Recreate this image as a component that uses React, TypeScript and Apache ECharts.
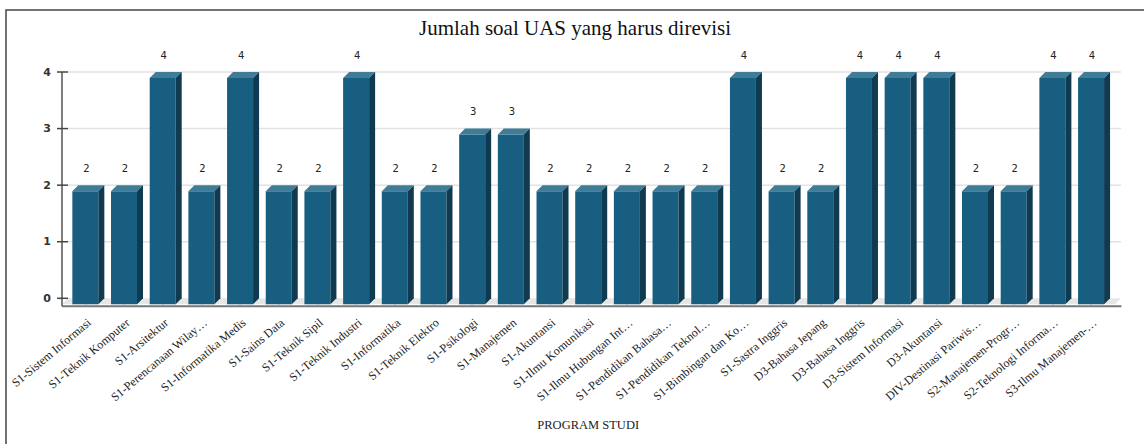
import React, { useEffect, useRef } from "react";
import * as echarts from "echarts";

const TITLE = "Jumlah soal UAS yang harus direvisi";
const AXIS_NAME = "PROGRAM STUDI";

const categories = [
  "S1-Sistem Informasi",
  "S1-Teknik Komputer",
  "S1-Arsitektur",
  "S1-Perencanaan Wilay…",
  "S1-Informatika Medis",
  "S1-Sains Data",
  "S1-Teknik Sipil",
  "S1-Teknik Industri",
  "S1-Informatika",
  "S1-Teknik Elektro",
  "S1-Psikologi",
  "S1-Manajemen",
  "S1-Akuntansi",
  "S1-Ilmu Komunikasi",
  "S1-Ilmu Hubungan Int…",
  "S1-Pendidikan Bahasa…",
  "S1-Pendidikan Teknol…",
  "S1-Bimbingan dan Ko…",
  "S1-Sastra Inggris",
  "D3-Bahasa Jepang",
  "D3-Bahasa Inggris",
  "D3-Sistem Informasi",
  "D3-Akuntansi",
  "DIV-Destinasi Pariwis…",
  "S2-Manajemen-Progr…",
  "S2-Teknologi Informa…",
  "S3-Ilmu Manajemen-…",
];

const values = [2, 2, 4, 2, 4, 2, 2, 4, 2, 2, 3, 3, 2, 2, 2, 2, 2, 4, 2, 2, 4, 4, 4, 2, 2, 4, 4];

const yTicks = [0, 1, 2, 3, 4];

const FRONT = "#185e80";
const TOP = "#3f7c98";
const SIDE = "#0f3a50";

export default function App() {
  const ref = useRef<HTMLDivElement>(null);

  useEffect(() => {
    document.body.style.margin = "0";
    if (!ref.current) return;
    const chart = echarts.init(ref.current, null, { renderer: "svg" });

    const D = 6;
    const HALF = 13;

    const option: any = {
      animation: false,
      title: {
        text: TITLE,
        left: 419,
        top: 17,
        padding: 0,
        textStyle: {
          fontFamily: "Liberation Serif",
          fontSize: 21,
          fontWeight: "normal",
          color: "#111",
        },
      },
      grid: { left: 66, right: 33.6, top: 72, bottom: 145.7, containLabel: false },
      xAxis: {
        type: "category",
        data: categories,
        offset: 8,
        axisLine: { show: false },
        axisTick: {
          show: true,
          alignWithLabel: true,
          length: 6,
          lineStyle: { color: "#333", width: 1.5 },
        },
        axisLabel: {
          rotate: 40,
          interval: 0,
          margin: 10,
          verticalAlign: "top",
          fontFamily: "Liberation Serif",
          fontSize: 12,
          color: "#222",
        },
        splitLine: { show: false },
        name: AXIS_NAME,
        nameLocation: "middle",
        nameGap: 112,
        nameTextStyle: {
          fontFamily: "Liberation Serif",
          fontSize: 12.5,
          color: "#222",
        },
      },
      yAxis: {
        type: "value",
        min: 0,
        max: 4,
        interval: 1,
        offset: 4,
        axisLine: { show: false },
        axisTick: { show: false },
        splitLine: { show: false },
        axisLabel: {
          margin: 11,
          fontFamily: "DejaVu Sans",
          fontSize: 11,
          fontWeight: "bold",
          color: "#333",
        },
      },
      graphic: [
        {
          type: "rect",
          shape: { x: 6, y: 10, width: 1160, height: 460 },
          style: { fill: "none", stroke: "#444", lineWidth: 1.5 },
          silent: true,
        },
      ],
      series: [
        {
          type: "custom",
          z: 1,
          clip: false,
          silent: true,
          data: [[0, 0]],
          renderItem: (params: any, api: any) => {
            const cs = params.coordSys;
            const x0 = cs.x;
            const x1 = cs.x + cs.width;
            const y0 = api.coord([0, 0])[1];
            const yTop = api.coord([0, yTicks[yTicks.length - 1]])[1];
            const children: any[] = [];
            children.push({
              type: "polygon",
              shape: {
                points: [
                  [x0 - 4, y0 + D],
                  [x1 + 4.6, y0 + D],
                  [x1 + 10.6, y0],
                  [x0 + 2, y0],
                ],
              },
              style: { fill: "#e6e6e6" },
            });
            yTicks.forEach((v) => {
              const y = api.coord([0, v])[1];
              if (v > 0) {
                children.push({
                  type: "line",
                  shape: { x1: x0 + 2, y1: y, x2: x1 + 10.6, y2: y },
                  style: { stroke: "#e2e2e2", lineWidth: 1.5 },
                });
              }
            });
            children.push({
              type: "line",
              shape: { x1: x0 - 4, y1: y0 + 8, x2: x1 + 11, y2: y0 + 8 },
              style: { stroke: "#777", lineWidth: 2 },
            });
            children.push({
              type: "line",
              shape: { x1: x0 - 4, y1: yTop, x2: x0 - 4, y2: y0 + 8 },
              style: { stroke: "#555", lineWidth: 1.5 },
            });
            yTicks.forEach((v) => {
              const y = api.coord([0, v])[1];
              children.push({
                type: "line",
                shape: { x1: x0 - 9, y1: y, x2: x0 + 2, y2: y },
                style: { stroke: "#444", lineWidth: 1.5 },
              });
            });
            return { type: "group", children };
          },
        },
        {
          type: "custom",
          z: 2,
          clip: false,
          data: values.map((v, i) => [i, v]),
          renderItem: (params: any, api: any) => {
            const i = api.value(0);
            const v = api.value(1);
            const p = api.coord([i, v]);
            const xc = p[0];
            const yv = p[1];
            const y0 = api.coord([i, 0])[1];
            return {
              type: "group",
              children: [
                {
                  type: "rect",
                  shape: { x: xc - HALF, y: yv + D, width: HALF * 2, height: y0 - yv },
                  style: { fill: FRONT },
                },
                {
                  type: "polygon",
                  shape: {
                    points: [
                      [xc - HALF, yv + D],
                      [xc + HALF, yv + D],
                      [xc + HALF + D, yv],
                      [xc - HALF + D, yv],
                    ],
                  },
                  style: { fill: TOP },
                },
                {
                  type: "polygon",
                  shape: {
                    points: [
                      [xc + HALF, yv + D],
                      [xc + HALF + D, yv],
                      [xc + HALF + D, y0],
                      [xc + HALF, y0 + D],
                    ],
                  },
                  style: { fill: SIDE },
                },
                {
                  type: "text",
                  style: {
                    text: String(v),
                    x: xc + 1,
                    y: yv - 17,
                    align: "center",
                    verticalAlign: "middle",
                    textAlign: "center",
                    textVerticalAlign: "middle",
                    fontFamily: "DejaVu Sans",
                    fontSize: 10,
                    fill: "#222",
                  },
                },
              ],
            };
          },
        },
      ],
    };

    chart.setOption(option);
    return () => {
      chart.dispose();
    };
  }, []);

  return <div ref={ref} style={{ width: 1144, height: 444 }} />;
}
